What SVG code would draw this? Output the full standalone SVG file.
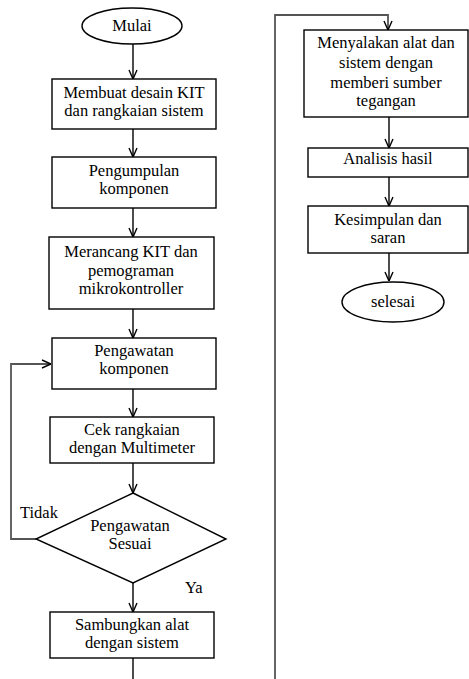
<svg xmlns="http://www.w3.org/2000/svg" width="469" height="679" viewBox="0 0 469 679">
<defs>
<style>
.n{fill:#fff;stroke:#000;stroke-width:1.4}
.t{font-family:"Liberation Serif","Times New Roman",serif;font-size:16.5px;fill:#000;text-anchor:middle}
.l{font-family:"Liberation Serif","Times New Roman",serif;font-size:16.5px;fill:#000}
.c{fill:none;stroke:#000;stroke-width:1.4}
.g{fill:none;stroke:#555;stroke-width:1.8}
</style>
<marker id="ah" viewBox="0 0 10 10" refX="10" refY="5" markerWidth="10" markerHeight="10" markerUnits="userSpaceOnUse" orient="auto">
<path d="M1,1 L10,5 L1,9" fill="none" stroke="#000" stroke-width="1.4"/>
</marker>
</defs>
<rect width="469" height="679" fill="#fff"/>
<g id="connectors">
<line class="c" x1="133" y1="44" x2="133" y2="79" marker-end="url(#ah)"/>
<line class="c" x1="133" y1="129" x2="133" y2="157" marker-end="url(#ah)"/>
<line class="c" x1="133" y1="208" x2="133" y2="237" marker-end="url(#ah)"/>
<line class="c" x1="133" y1="309" x2="133" y2="338" marker-end="url(#ah)"/>
<line class="c" x1="133" y1="389" x2="133" y2="417" marker-end="url(#ah)"/>
<line class="c" x1="133" y1="463" x2="133" y2="493" marker-end="url(#ah)"/>
<line class="c" x1="133" y1="583" x2="133" y2="612" marker-end="url(#ah)"/>
<line class="c" x1="133" y1="658" x2="133" y2="679"/>
<polyline class="g" points="36,539 11,539 11,364 51,364" marker-end="url(#ah)"/>
<polyline class="g" points="275,679 275,15 388,15 388,30" marker-end="url(#ah)"/>
<line class="c" x1="389" y1="117" x2="389" y2="148" marker-end="url(#ah)"/>
<line class="c" x1="389" y1="177" x2="389" y2="206" marker-end="url(#ah)"/>
<line class="c" x1="389" y1="253" x2="389" y2="281" marker-end="url(#ah)"/>
</g>
<g id="mulai"><ellipse class="n" cx="132" cy="26" rx="50" ry="18"/><text class="t" x="132" y="31">Mulai</text></g>
<g id="desain"><rect class="n" x="52" y="79" width="164" height="50"/><text class="t" x="134" y="98">Membuat desain KIT</text><text class="t" x="134" y="116">dan rangkaian sistem</text></g>
<g id="pengumpulan"><rect class="n" x="52" y="157" width="164" height="51"/><text class="t" x="134" y="176">Pengumpulan</text><text class="t" x="134" y="194">komponen</text></g>
<g id="merancang"><rect class="n" x="49" y="237" width="165" height="72"/><text class="t" x="131" y="257">Merancang KIT dan</text><text class="t" x="131" y="276">pemograman</text><text class="t" x="131" y="294">mikrokontroller</text></g>
<g id="pengawatan"><rect class="n" x="52" y="338" width="164" height="51"/><text class="t" x="134" y="356">Pengawatan</text><text class="t" x="134" y="374">komponen</text></g>
<g id="cek"><rect class="n" x="50" y="417" width="164" height="46"/><text class="t" x="132" y="435">Cek rangkaian</text><text class="t" x="132" y="453">dengan Multimeter</text></g>
<g id="sesuai"><polygon class="n" points="133,493 226,539 133,583 36,539"/><text class="t" x="130" y="531">Pengawatan</text><text class="t" x="130" y="549">Sesuai</text></g>
<g id="labels"><text class="l" x="20" y="518">Tidak</text><text class="l" x="185" y="593">Ya</text></g>
<g id="sambungkan"><rect class="n" x="50" y="612" width="164" height="46"/><text class="t" x="132" y="630">Sambungkan alat</text><text class="t" x="132" y="648">dengan sistem</text></g>
<g id="menyalakan"><rect class="n" x="304" y="30" width="164" height="87"/><text class="t" x="386" y="48">Menyalakan alat dan</text><text class="t" x="386" y="68">sistem dengan</text><text class="t" x="386" y="88">memberi sumber</text><text class="t" x="386" y="106">tegangan</text></g>
<g id="analisis"><rect class="n" x="308" y="148" width="160" height="29"/><text class="t" x="388" y="164">Analisis hasil</text></g>
<g id="kesimpulan"><rect class="n" x="308" y="206" width="160" height="47"/><text class="t" x="388" y="225">Kesimpulan dan</text><text class="t" x="388" y="243">saran</text></g>
<g id="selesai"><ellipse class="n" cx="393" cy="302" rx="51" ry="20"/><text class="t" x="393" y="307">selesai</text></g>
</svg>
